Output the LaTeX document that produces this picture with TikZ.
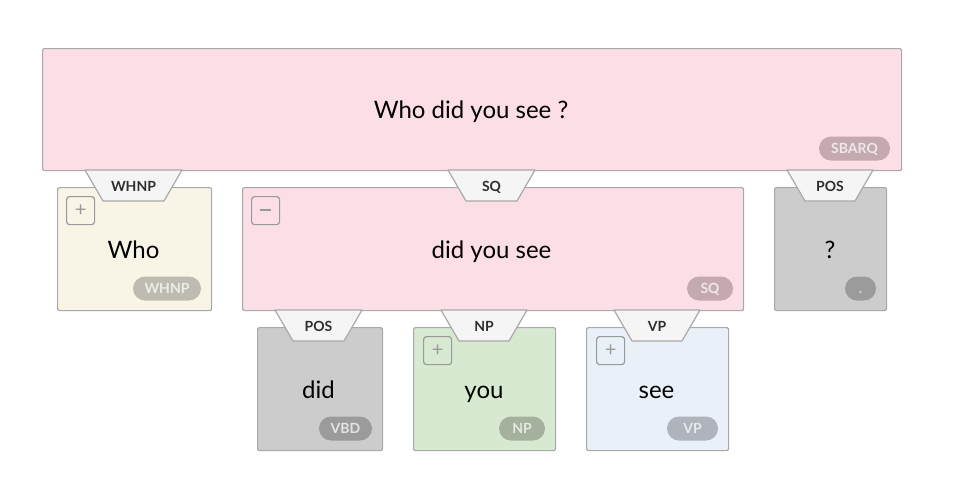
\documentclass[tikz,border=0pt]{standalone}
\usepackage{fontspec}
\setmainfont{Lato}
\begin{document}
\begin{tikzpicture}[x=1pt,y=-1pt,
  box/.style={draw=boxline,line width=1.2pt,rounded corners=2pt,inner sep=0pt,anchor=north west},
  word/.style={font=\fontsize{24}{28}\selectfont,text=black,inner sep=0pt,anchor=base},
  pill/.style={rounded corners=12pt,minimum height=24pt,inner sep=0pt,text height=10pt,text depth=0pt,text=white,text opacity=0.72,font=\fontsize{14}{16}\bfseries\selectfont},
  tablbl/.style={font=\fontsize{14}{16}\bfseries\selectfont,text=tabtext,inner sep=0pt,anchor=base},
  tabshape/.style={fill=tabfill,draw=boxline,line width=1.2pt,line join=round},
  btn/.style={draw=btnline,line width=1.2pt,rounded corners=3pt,minimum width=28pt,minimum height=28pt,inner sep=0pt,text=btnline,font=\fontsize{20}{20}\selectfont,anchor=north west}
]
\definecolor{boxline}{HTML}{A9A9A9}
\definecolor{btnline}{HTML}{9A9A9A}
\definecolor{tabfill}{HTML}{F5F5F5}
\definecolor{tabtext}{HTML}{2E2E2E}
\definecolor{pinkfill}{HTML}{FCDFE6}
\definecolor{creamfill}{HTML}{F8F5E7}
\definecolor{grayfill}{HTML}{CCCCCC}
\definecolor{greenfill}{HTML}{D8E9D1}
\definecolor{bluefill}{HTML}{E9F0F8}
\definecolor{pinkpill}{HTML}{C5A9B0}
\definecolor{creampill}{HTML}{BEBCB1}
\definecolor{graypill}{HTML}{9B9B9B}
\definecolor{greenpill}{HTML}{A4B19D}
\definecolor{bluepill}{HTML}{AFB3BC}
\useasboundingbox[fill=white] (0,0) rectangle (974,499);

% top level
\node[box,fill=pinkfill,minimum width=859pt,minimum height=122pt] (sbarq) at (42,48) {};
\node[word] (sbarqt) at (471,118) {Who did you see ?};
\node[pill,fill=pinkpill,minimum width=71pt] (sbarqp) at (854.5,148.5) {SBARQ};

% second row
\node[box,fill=creamfill,minimum width=154pt,minimum height=123pt] (whnp) at (57,187) {};
\node[word] (whnpt) at (133.5,258) {Who};
\node[pill,fill=creampill,minimum width=68pt] (whnpp) at (167,288.5) {WHNP};
\node[btn] (whnpb) at (66,196) {+};

\node[box,fill=pinkfill,minimum width=501pt,minimum height=123pt] (sq) at (242,187) {};
\node[word] (sqt) at (491.5,258) {did you see};
\node[pill,fill=pinkpill,minimum width=46pt] (sqp) at (710,288.5) {SQ};
\node[btn] (sqb) at (251,196) {\raisebox{1pt}{\rule{11pt}{1.3pt}}};

\node[box,fill=grayfill,minimum width=112pt,minimum height=123pt] (pos1) at (774,187) {};
\node[word] (pos1t) at (830,258) {?};
\node[pill,fill=graypill,minimum width=31pt] (pos1p) at (860.5,288.5) {.};

% third row
\node[box,fill=grayfill,minimum width=125pt,minimum height=123pt] (pos2) at (257,327) {};
\node[word] (pos2t) at (318.5,398) {did};
\node[pill,fill=graypill,minimum width=53pt] (pos2p) at (345.5,428.5) {VBD};

\node[box,fill=greenfill,minimum width=142pt,minimum height=123pt] (np) at (413,327) {};
\node[word] (npt) at (484,398) {you};
\node[pill,fill=greenpill,minimum width=46pt] (npp) at (522,428.5) {NP};
\node[btn] (npb) at (423,336) {+};

\node[box,fill=bluefill,minimum width=142pt,minimum height=123pt] (vp) at (586,327) {};
\node[word] (vpt) at (656.5,398) {see};
\node[pill,fill=bluepill,minimum width=51pt] (vpp) at (692.5,428.5) {VP};
\node[btn] (vpb) at (596,336) {+};

% tabs (connectors from parent bottom to child)
\newcommand{\labtab}[5]{%
  \draw[tabshape] (#1-#3,#2) -- (#1+#3,#2) -- (#1+#3-18,#2+31) -- (#1-#3+18,#2+31) -- cycle;
  \node[tablbl] (#4) at (#1,#2+21) {#5};}
\labtab{133.5}{170}{48.5}{tabwhnp}{WHNP}
\labtab{491.5}{170}{43.5}{tabsq}{SQ}
\labtab{830}{170}{43}{tabpos1}{POS}
\labtab{318.5}{310}{43.5}{tabpos2}{POS}
\labtab{484}{310}{43}{tabnp}{NP}
\labtab{657}{310}{43}{tabvp}{VP}
\end{tikzpicture}
\end{document}
